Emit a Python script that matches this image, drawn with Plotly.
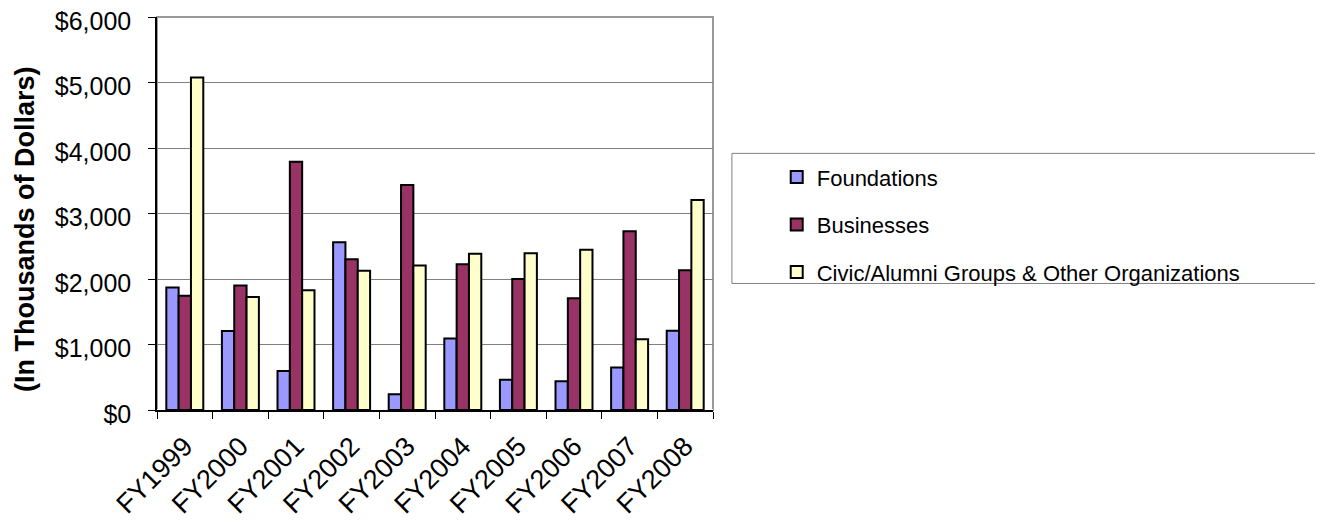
import plotly.graph_objects as go

years = ["FY1999", "FY2000", "FY2001", "FY2002", "FY2003", "FY2004", "FY2005", "FY2006", "FY2007", "FY2008"]
foundations = [1870, 1205, 595, 2560, 240, 1090, 460, 440, 650, 1210]
businesses = [1745, 1900, 3790, 2300, 3435, 2225, 2000, 1705, 2730, 2135]
civic = [5075, 1725, 1830, 2125, 2205, 2385, 2395, 2445, 1080, 3205]

series = [
    ("Foundations", foundations, "#9999FF"),
    ("Businesses", businesses, "#993366"),
    ("Civic/Alumni Groups & Other Organizations", civic, "#FFFFCC"),
]

FONT = "Liberation Sans, Arial, sans-serif"

fig = go.Figure()
for i, (name, vals, color) in enumerate(series):
    fig.add_trace(go.Bar(
        x=years, y=vals, name=name, legendgroup=f"g{i}",
        marker=dict(color=color, line=dict(color="black", width=2)),
    ))

fig.update_layout(
    width=1315, height=515,
    margin=dict(l=149, r=610, t=9, b=113, autoexpand=False),
    paper_bgcolor="white", plot_bgcolor="white",
    barmode="group", bargap=0.335, bargroupgap=0,
    font=dict(family=FONT, size=22, color="black"),
    showlegend=True,
    legend=dict(
        x=1.1146, y=0.646, xanchor="left", yanchor="top",
        bgcolor="rgba(0,0,0,0)", borderwidth=0,
        font=dict(family=FONT, size=22, color="black"),
        tracegroupgap=16, itemwidth=30,
    ),
    shapes=[
        dict(type="rect", xref="paper", yref="paper", x0=0, x1=1, y0=0, y1=1,
             line=dict(color="#999999", width=2), layer="below"),
        dict(type="rect", xref="paper", yref="paper", x0=1.034, x1=2.088, y0=0.322, y1=0.653,
             line=dict(color="#808080", width=1)),
    ],
    annotations=[
        dict(text="<b>(In Thousands of Dollars)</b>", xref="paper", yref="paper",
             x=0, y=0.4606, xanchor="center", yanchor="middle", xshift=-132,
             textangle=-90, showarrow=False, font=dict(family=FONT, size=27, color="black")),
    ],
)

fig.update_xaxes(
    automargin=False,
    showline=True, linecolor="black", linewidth=1.5,
    ticks="outside", tickson="boundaries", ticklen=7, tickcolor="black",
    tickangle=-45, tickfont=dict(family=FONT, size=27), ticklabelstandoff=8,
    showgrid=False,
)
fig.update_yaxes(
    automargin=False,
    range=[0, 6000], dtick=1000, tickprefix="$", tickformat=",",
    showline=True, linecolor="black", linewidth=1.5,
    ticks="outside", ticklen=7, tickcolor="black",
    showgrid=True, gridcolor="#808080", gridwidth=1,
    tickfont=dict(family=FONT, size=25), ticklabelstandoff=12,
    ticklabelshift=4, ticklabeloverflow="allow",
)

fig.write_html("out.html")
